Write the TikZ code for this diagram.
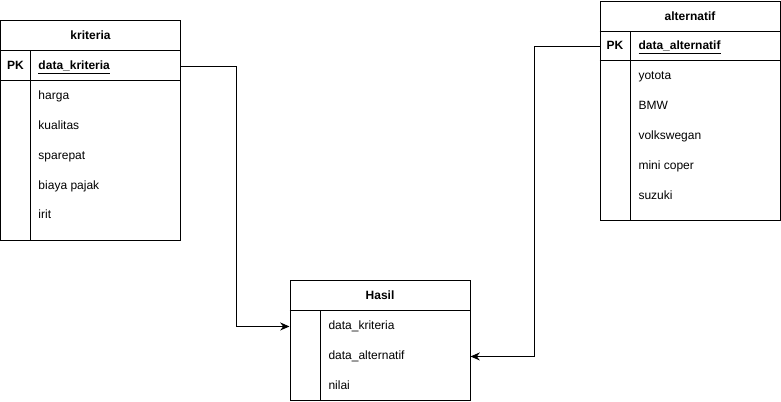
\documentclass[tikz,border=0pt]{standalone}
\usepackage{fontspec}
\setmainfont{Liberation Sans}
\usetikzlibrary{arrows.meta}

\begin{document}
\begin{tikzpicture}[x=0.75pt,y=0.75pt,yscale=-1,line width=0.75pt,
  entity/.style={draw,inner sep=0pt},
  field/.style={anchor=west,inner sep=0pt,yshift=-1.1pt,text height=6.5pt,text depth=1.8pt,font=\fontsize{9}{11}\selectfont},
  keymark/.style={inner sep=0pt,yshift=-1.1pt,text height=6.5pt,text depth=1.8pt,font=\fontsize{9}{11}\selectfont\bfseries},
  relation/.style={-{Stealth[length=7pt,width=6pt]}}]
\useasboundingbox (0,0) rectangle (781,401);

%Shape: Table [id:kriteria]
\node [entity,minimum width=135pt,minimum height=165pt] (kriteria) at (90.5,130) {};
\draw (kriteria.west |- 0,50) -- (kriteria.east |- 0,50) ;
\draw (kriteria.west |- 0,80) -- (kriteria.east |- 0,80) ;
\draw (30.5,50) -- (30.5,0 |- kriteria.south) ;

%Shape: Table [id:alternatif]
\node [entity,minimum width=135pt,minimum height=164.25pt] (alternatif) at (690,110.5) {};
\draw (alternatif.west |- 0,31) -- (alternatif.east |- 0,31) ;
\draw (alternatif.west |- 0,60) -- (alternatif.east |- 0,60) ;
\draw (630,31) -- (630,0 |- alternatif.south) ;

%Shape: Table [id:hasil]
\node [entity,minimum width=135pt,minimum height=90pt] (hasil) at (380,340) {};
\draw (hasil.west |- 0,310) -- (hasil.east |- 0,310) ;
\draw (320,310) -- (320,0 |- hasil.south) ;

% Text Node
\node [keymark] (krittitle) at (90.5,35) {kriteria};
\node [keymark] (kritkey) at (15.5,65) {PK};
\node [field,font=\fontsize{9}{11}\selectfont\bfseries] (kritpk) at (38,65) {\underline{data\_kriteria}};
\node [field] (harga) at (38,95) {harga};
\node [field] (kualitas) at (38,125) {kualitas};
\node [field] (sparepat) at (38,155) {sparepat};
\node [field] (pajak) at (38,185) {biaya pajak};
\node [field] (irit) at (38,214) {irit};

% Text Node
\node [keymark] (alttitle) at (690,16) {alternatif};
\node [keymark] (altkey) at (615,45) {PK};
\node [field,font=\fontsize{9}{11}\selectfont\bfseries] (altpk) at (638,45) {\underline{data\_alternatif}};
\node [field] (yotota) at (638,75) {yotota};
\node [field] (bmw) at (638,105) {BMW};
\node [field] (vw) at (638,135) {volkswegan};
\node [field] (mini) at (638,165) {mini coper};
\node [field] (suzuki) at (638,195) {suzuki};

% Text Node
\node [keymark] (hasiltitle) at (380,295) {Hasil};
\node [field] (hasilkrit) at (328,325) {data\_kriteria};
\node [field] (hasilalt) at (328,355) {data\_alternatif};
\node [field] (nilai) at (328,385) {nilai};

%Connector Lines
\draw [relation] (kriteria.east |- kritpk) -- ++(55,0) |- (hasil.west |- hasilkrit) ;
\draw [relation] (alternatif.west |- altpk) -- ++(-65,0) |- (hasil.east |- hasilalt) ;

\end{tikzpicture}
\end{document}
